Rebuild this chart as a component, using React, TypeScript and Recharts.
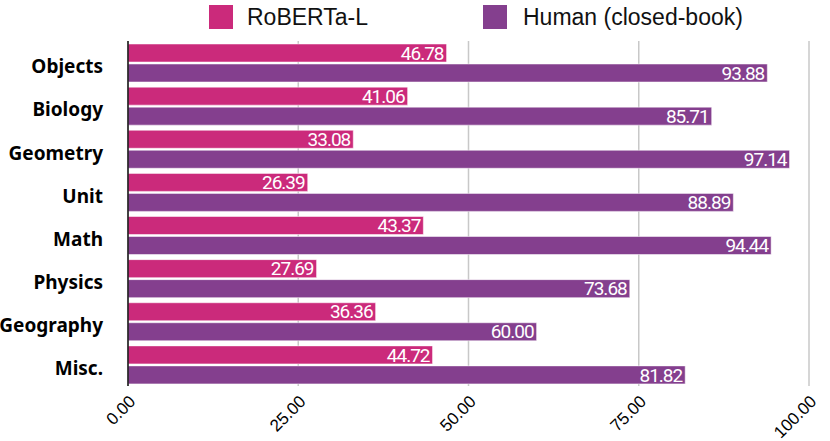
import React from "react";
import {
  Bar,
  BarChart,
  CartesianGrid,
  LabelList,
  Legend,
  XAxis,
  YAxis,
} from "recharts";

const categories = ["Objects", "Biology", "Geometry", "Unit", "Math", "Physics", "Geography", "Misc."];
const robertaScores = [46.78, 41.06, 33.08, 26.39, 43.37, 27.69, 36.36, 44.72];
const humanScores = [93.88, 85.71, 97.14, 88.89, 94.44, 73.68, 60.0, 81.82];
const xTicks = [0, 25, 50, 75, 100];
const seriesNames = ["RoBERTa-L", "Human (closed-book)"];

const PINK = "#CB2A7B";
const PURPLE = "#843F8E";
const seriesColors = [PINK, PURPLE];

const data = categories.map((name, i) => ({
  name,
  roberta: robertaScores[i],
  human: humanScores[i],
}));

const fmt = (v: number) => Number(v).toFixed(2);

const valueLabelStyle = {
  fontFamily: "Roboto, sans-serif",
  fontSize: 19,
  letterSpacing: -1,
};

function LegendBox() {
  const gaps = [14, 16];
  const offsets = [209, 483];
  return (
    <div style={{ position: "relative", height: 39, width: 830 }}>
      {seriesNames.map((label, i) => (
        <div
          key={label}
          style={{
            position: "absolute",
            left: offsets[i],
            top: 3,
            display: "flex",
            alignItems: "center",
            height: 24,
          }}
        >
          <span style={{ width: 24, height: 24, background: seriesColors[i], display: "inline-block" }} />
          <span
            style={{
              marginLeft: gaps[i],
              fontFamily: "'Liberation Sans', Arial, sans-serif",
              fontSize: 23,
              color: "#111",
              lineHeight: "24px",
              whiteSpace: "nowrap",
            }}
          >
            {label}
          </span>
        </div>
      ))}
    </div>
  );
}

export default function App() {
  return (
    <div style={{ position: "absolute", left: 0, top: 0, background: "#fff" }}>
      <BarChart
        width={830}
        height={441}
        data={data}
        layout="vertical"
        margin={{ top: 2, right: 21, bottom: 0, left: 0 }}
        barSize={18}
        barGap={2}
      >
        <CartesianGrid horizontal={false} stroke="#c8c8c8" strokeWidth={1.5} />
        <XAxis
          type="number"
          domain={[0, 100]}
          ticks={xTicks}
          tickFormatter={fmt}
          axisLine={false}
          tickLine={false}
          angle={-45}
          textAnchor="end"
          height={55}
          interval={0}
          tick={{ fill: "#000", fontSize: 17, fontFamily: "'Liberation Sans', Arial, sans-serif" }}
        />
        <YAxis
          type="category"
          dataKey="name"
          width={128}
          tickLine={false}
          axisLine={{ stroke: "#111", strokeWidth: 1.5 }}
          tickMargin={19}
          interval={0}
          tick={{ fill: "#000", fontSize: 19, fontWeight: "bold", fontFamily: "'Noto Sans', sans-serif", dy: 4 }}
        />
        <Legend verticalAlign="top" content={<LegendBox />} />
        <Bar
          dataKey="roberta"
          name="RoBERTa-L"
          fill={PINK}
          stroke="#fff"
          strokeOpacity={0.5}
          isAnimationActive={false}
        >
          <LabelList
            dataKey="roberta"
            position="insideRight"
            offset={3}
            formatter={fmt}
            fill="#fff"
            style={valueLabelStyle}
          />
        </Bar>
        <Bar
          dataKey="human"
          name="Human (closed-book)"
          fill={PURPLE}
          stroke="#fff"
          strokeOpacity={0.5}
          isAnimationActive={false}
        >
          <LabelList
            dataKey="human"
            position="insideRight"
            offset={3}
            formatter={fmt}
            fill="#fff"
            style={valueLabelStyle}
          />
        </Bar>
      </BarChart>
    </div>
  );
}
